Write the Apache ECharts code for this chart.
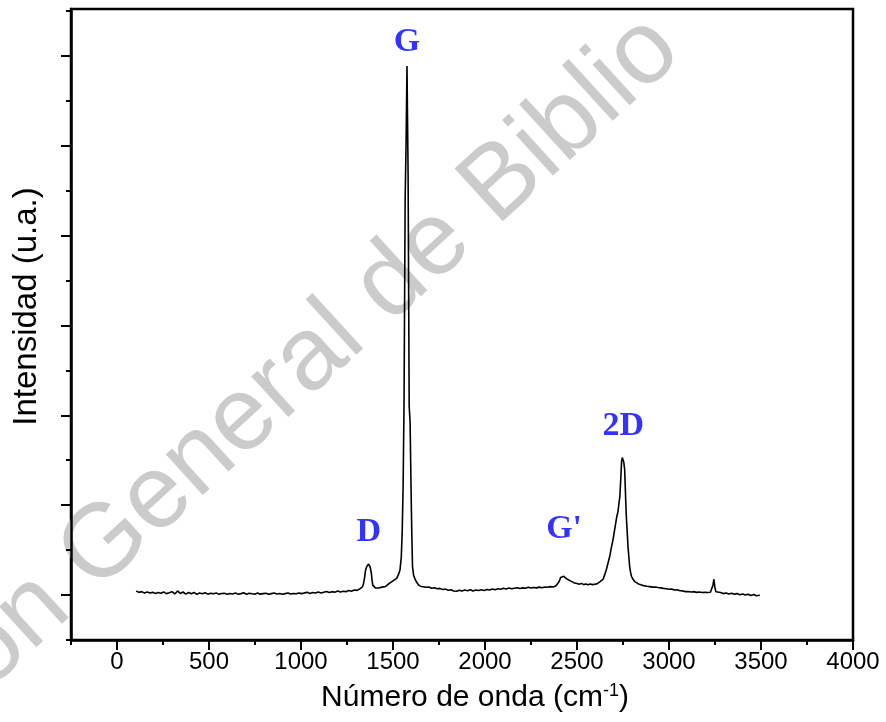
<!DOCTYPE html>
<html>
<head>
<meta charset="utf-8">
<script src="https://cdn.jsdelivr.net/npm/echarts@6/dist/echarts.min.js"></script>
<style>html,body{margin:0;padding:0;background:#fff}#chart{width:886px;height:722px}</style>
</head>
<body>
<div id="chart"></div>
<script>
// Raman spectrum, segments of [wavenumber (cm-1), intensity (a.u.)]
const baselineLow = [[104,46],[119,30],[134,38],[149,24],[164,34],[179,22],[194,30],[209,18],[224,28],[239,20],[254,34],[269,16],[284,26],[299,38],[314,12],[329,46],[344,18],[359,34],[374,10],[389,28],[404,14],[419,30],[434,8],[449,22],[464,14],[479,26],[494,10],[509,20],[524,14],[539,24],[554,8],[569,18],[584,20],[599,10],[614,18],[629,12],[644,24],[659,8],[674,16],[689,26],[704,8],[719,20],[734,14],[749,10],[764,22],[779,10],[794,16],[809,20],[824,8],[839,16],[854,22],[869,12],[884,18],[899,8],[914,16],[929,24],[944,12],[959,18],[974,14],[989,24],[1004,16],[1019,24],[1034,30],[1049,18],[1064,28],[1079,22],[1094,34],[1109,24],[1124,32],[1139,40],[1154,28],[1169,38],[1184,32],[1199,44],[1214,34],[1229,42],[1244,38],[1259,50],[1274,42],[1289,56],[1304,52]];
const bandDG = [[1316,64],[1326,72],[1334,90],[1340,130],[1346,200],[1351,280],[1356,310],[1361,330],[1366,345],[1370,342],[1374,320],[1378,290],[1382,250],[1386,170],[1390,110],[1396,88],[1404,80],[1413,86],[1422,78],[1431,92],[1440,88],[1450,100],[1460,96],[1470,112],[1480,130],[1490,150],[1500,158],[1510,176],[1520,185],[1530,230],[1538,280],[1545,420],[1550,700],[1555,1210],[1560,2140],[1566,4400],[1571,5010],[1576,5887],[1582,4700],[1588,2100],[1593,1920],[1598,1200],[1602,700],[1606,320],[1612,220],[1620,175],[1629,142],[1640,110],[1652,96]];
const baselineMid = [[1665,92],[1680,86],[1695,90],[1710,76],[1725,82],[1740,70],[1755,74],[1770,62],[1785,66],[1800,54],[1815,60],[1830,46],[1845,42],[1860,54],[1875,44],[1890,56],[1905,48],[1920,60],[1935,46],[1950,56],[1965,50],[1980,58],[1995,50],[2010,62],[2025,56],[2040,68],[2055,60],[2070,70],[2085,64],[2100,76],[2115,68],[2130,78],[2145,70],[2160,76],[2175,82],[2190,72],[2205,80],[2220,76],[2235,86],[2250,78],[2265,84],[2280,80],[2295,88],[2310,82],[2325,90],[2340,86],[2355,94],[2370,90],[2385,100]];
const bandGp = [[2395,112],[2403,150],[2411,195],[2419,212],[2428,208],[2437,190],[2446,178],[2455,165],[2464,158],[2473,150],[2482,138],[2491,148],[2500,128],[2512,120],[2524,130],[2536,116],[2548,124],[2560,114],[2572,122],[2584,116],[2596,120],[2608,124],[2618,138],[2626,150],[2634,165]];
const band2D = [[2642,176],[2651,230],[2660,287],[2669,360],[2678,431],[2687,530],[2696,620],[2704,720],[2711,809],[2717,880],[2723,931],[2728,1020],[2733,1098],[2738,1300],[2742,1475],[2746,1530],[2750,1545],[2754,1480],[2759,1398],[2764,1100],[2768,875],[2773,700],[2777,542],[2782,420],[2786,320],[2791,255],[2796,209],[2804,176],[2814,150],[2824,138],[2834,124],[2844,118],[2856,108],[2868,102],[2880,98],[2895,94],[2910,88],[2925,90],[2940,84]];
const baselineHigh = [[2955,80],[2970,74],[2985,70],[3000,64],[3015,66],[3030,56],[3045,58],[3060,48],[3075,46],[3090,38],[3105,40],[3120,34],[3135,38],[3150,30],[3165,34],[3180,28],[3195,32],[3210,28],[3225,32],[3234,44],[3239,110],[3244,176],[3249,90],[3255,36],[3265,24],[3280,28],[3295,16],[3310,24],[3325,12],[3340,20],[3355,8],[3370,16],[3385,4],[3400,12],[3415,0],[3430,10],[3445,-4],[3460,6],[3475,-8],[3494,-2]];

// peak annotations: [wavenumber, intensity at label, name]
const peakLabels = [[1369,700,'D'],[1576,6150,'G'],[2430,735,"G'"],[2752,1880,'2D']];

const xMajorTicks = [0,500,1000,1500,2000,2500,3000,3500,4000];
const xMinorTicks = [-250,250,750,1250,1750,2250,2750,3250,3750];
const yMajorTicks = [0,1000,2000,3000,4000,5000,6000];
const yMinorTicks = [-500,500,1500,2500,3500,4500,5500,6500];

const spectrum = [].concat(baselineLow, bandDG, baselineMid, bandGp, band2D, baselineHigh);

const chart = echarts.init(document.getElementById('chart'));
const sans = 'Liberation Sans, Arial, sans-serif';
chart.setOption({
  animation: false,
  backgroundColor: '#fff',
  grid: {left: 71, right: 33, top: 9, bottom: 82, show: true, borderColor: '#000', borderWidth: 2.5, backgroundColor: 'transparent'},
  graphic: [{
    type: 'text', z: 0,
    x: 317, y: 352, rotation: 0.74,
    style: {text: 'ón General de Biblio', font: '104px "Liberation Sans", Arial, sans-serif', fill: '#cbcbcb', textAlign: 'center', textVerticalAlign: 'middle'}
  }],
  xAxis: [{
    type: 'value', min: -250, max: 4000, position: 'bottom',
    axisLine: {show: true, onZero: false, lineStyle: {color: '#000', width: 2.5}},
    axisTick: {show: true, length: 10, customValues: xMajorTicks, lineStyle: {color: '#000', width: 2}},
    axisLabel: {customValues: xMajorTicks, fontSize: 24, color: '#000', margin: 10, fontFamily: sans, formatter: v => String(v)},
    splitLine: {show: false},
    name: 'Número de onda (cm{sup|-1})', nameLocation: 'middle', nameGap: 42,
    nameTextStyle: {fontSize: 30, color: '#000', fontFamily: sans, padding: [0, 0, 0, 26],
      rich: {sup: {fontSize: 18, color: '#000', fontFamily: sans, padding: [0, 0, 14, 0]}}}
  }, {
    type: 'value', min: -250, max: 4000, position: 'bottom',
    axisLine: {show: false, onZero: false},
    axisTick: {show: true, length: 5, customValues: xMinorTicks, lineStyle: {color: '#000', width: 2}},
    axisLabel: {show: false}, splitLine: {show: false}
  }],
  yAxis: [{
    type: 'value', min: -500, max: 6520, position: 'left',
    axisLine: {show: true, onZero: false, lineStyle: {color: '#000', width: 2.5}},
    axisTick: {show: true, length: 10, customValues: yMajorTicks, lineStyle: {color: '#000', width: 2}},
    axisLabel: {show: false}, splitLine: {show: false},
    name: 'Intensidad (u.a.)', nameLocation: 'middle', nameGap: 28,
    nameTextStyle: {fontSize: 33, color: '#000', fontFamily: sans, padding: [0, 0, 0, 36]}
  }, {
    type: 'value', min: -500, max: 6520, position: 'left',
    axisLine: {show: false, onZero: false},
    axisTick: {show: true, length: 5, customValues: yMinorTicks, lineStyle: {color: '#000', width: 2}},
    axisLabel: {show: false}, splitLine: {show: false}
  }],
  series: [{
    type: 'line', z: 5, data: spectrum, showSymbol: false, symbol: 'none',
    lineStyle: {color: '#000', width: 1.6}, silent: true
  }, {
    type: 'scatter', z: 6, data: peakLabels, symbolSize: 1,
    itemStyle: {color: 'rgba(0,0,0,0)'},
    label: {show: true, position: 'inside', formatter: p => p.data[2], color: '#0000ff', fontSize: 34, fontWeight: 'bold', fontFamily: '"Liberation Serif", "Times New Roman", serif'}
  }]
});
</script>
</body>
</html>
